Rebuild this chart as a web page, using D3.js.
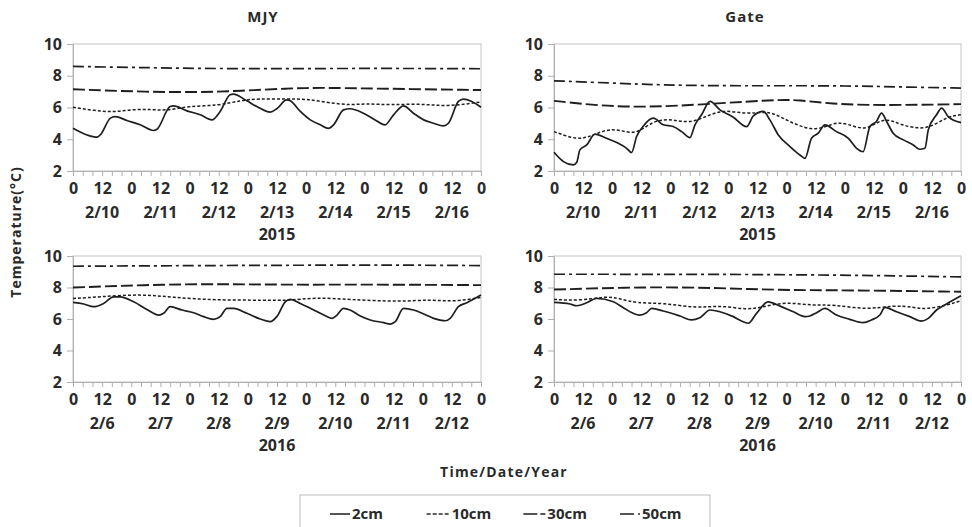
<!DOCTYPE html>
<html>
<head>
<meta charset="utf-8">
<script src="https://cdn.jsdelivr.net/npm/d3@7"></script>
<style>
  body { margin: 0; background: #fff; }
  text { font-family: "Open Sans", sans-serif; font-weight: 700; fill: #2a2a2a; }
</style>
</head>
<body>
<div id="chart"></div>
<script>
// hours since start of first day, temperature (°C)
const HOURS = d3.range(0, 169, 12);
const MINOR_HOURS = d3.range(0, 169, 4);
const Y_TICKS = [2, 4, 6, 8, 10];
const DATES_2015 = ['2/10', '2/11', '2/12', '2/13', '2/14', '2/15', '2/16'];
const DATES_2016 = ['2/6', '2/7', '2/8', '2/9', '2/10', '2/11', '2/12'];
const DEPTHS = ['2cm', '10cm', '30cm', '50cm'];

const mjy2015_2cm = [[0,4.69],[5.8,4.27],[9.9,4.13],[11.2,4.27],[15.4,5.33],[17.4,5.43],[22.2,5.18],[27.7,4.91],[33.2,4.55],[34.6,4.63],[40,6.06],[41.4,6.1],[46.9,5.79],[52.4,5.54],[57.2,5.22],[60.6,5.75],[64.7,6.8],[66,6.84],[71.6,6.42],[75.7,6.06],[81.2,5.71],[83.9,5.92],[88,6.48],[89.5,6.42],[93.6,5.75],[97.7,5.22],[101.8,4.91],[105.2,4.69],[107.3,4.91],[111.4,5.85],[114.1,5.92],[119.6,5.64],[124.4,5.22],[128.5,4.91],[132,5.54],[136.1,6.1],[140.2,5.64],[144.4,5.22],[148.5,5.01],[152.5,4.84],[154.6,5.01],[158.7,6.38],[160.8,6.53],[164.2,6.38],[168,6.02]];
const mjy2015_10cm = [[0,6.02],[9,5.8],[16.7,5.7],[24,5.88],[32,5.88],[38.7,5.8],[47,6.08],[60,6.12],[69,6.45],[76,6.55],[88,6.52],[96,6.55],[105,6.3],[114,6.15],[121,6.25],[131,6.15],[143,6.25],[154,6.05],[168,6.35]];
const mjy2015_30cm = [[0,7.15],[25,7.0],[52,6.95],[69,7.05],[88,7.2],[102,7.25],[120,7.2],[168,7.1]];
const mjy2015_50cm = [[0,8.59],[25,8.52],[52,8.46],[80,8.44],[110,8.46],[140,8.46],[168,8.44]];

const gate2015_2cm = [[0,3.18],[3.9,2.59],[8,2.38],[9.4,2.55],[10.7,3.33],[13.5,3.64],[16.9,4.32],[21.7,4.06],[25.9,3.79],[30,3.43],[32,3.16],[34.1,4.17],[36.9,4.84],[41,5.33],[45.1,4.91],[49.2,4.8],[52.7,4.48],[56.1,4.1],[58.2,4.91],[60.9,5.54],[64.4,6.38],[68.5,5.85],[74,5.39],[79.5,4.8],[82.3,5.47],[86.4,5.75],[89.1,5.22],[92.6,4.27],[97.4,3.54],[101.5,3.01],[103.6,2.8],[106.3,4.06],[109.1,4.38],[111.8,4.91],[116.6,4.48],[121.5,4.06],[124.9,3.43],[127.6,3.22],[130.4,4.8],[133.1,5.12],[135.2,5.64],[137.3,5.12],[140,4.38],[144.2,3.96],[148.3,3.64],[151,3.37],[153.1,3.43],[154.5,4.59],[157.9,5.54],[160,5.96],[162.7,5.43],[168,5.05]];
const gate2015_10cm = [[0,4.48],[9.4,3.96],[14.9,4.17],[21.7,4.63],[27.2,4.59],[34.1,4.27],[41,5.22],[49.2,5.26],[57.5,4.95],[68.5,5.96],[79.5,5.54],[87.8,5.79],[93.3,5.43],[107,4.38],[115.3,5.07],[120.8,5.01],[129,4.48],[135.9,5.43],[142.8,4.91],[153.8,4.53],[162,5.43],[168,5.54]];
const gate2015_30cm = [[0,6.42],[19,6.1],[38,6.02],[59,6.17],[80,6.38],[93,6.48],[101,6.48],[114,6.23],[134,6.13],[168,6.21]];
const gate2015_50cm = [[0,7.68],[24,7.54],[52,7.37],[93,7.37],[120,7.37],[148,7.28],[168,7.22]];

const mjy2016_2cm = [[0,7.05],[4.4,6.95],[8.5,6.78],[12.6,6.99],[16.7,7.41],[19.4,7.41],[25,7.09],[30.4,6.61],[35.3,6.25],[37.3,6.36],[40,6.78],[44.9,6.57],[49.7,6.4],[53.8,6.15],[57.9,5.98],[60.6,6.15],[63.4,6.67],[66.1,6.67],[71.6,6.36],[77.1,6.0],[81.2,5.83],[83.9,6.15],[87.4,7.09],[89.4,7.24],[93.6,6.99],[99.1,6.57],[103.9,6.21],[106.7,6.04],[108.7,6.25],[111.4,6.67],[114.1,6.57],[118.3,6.19],[122.4,5.94],[127.9,5.77],[130.6,5.68],[132.7,5.83],[136.1,6.67],[140.2,6.57],[144.4,6.32],[148.5,6.04],[153.3,5.89],[155.3,6.04],[158.7,6.78],[162.2,7.03],[168,7.52]];
const mjy2016_10cm = [[0,7.3],[11.2,7.41],[27.7,7.58],[41.4,7.37],[57.9,7.2],[79.8,7.2],[88,7.16],[100.4,7.37],[114,7.24],[134.7,7.09],[147,7.24],[156.7,7.09],[168,7.37]];
const mjy2016_30cm = [[0,8.0],[38.7,8.21],[66,8.21],[93,8.17],[121,8.19],[168,8.15]];
const mjy2016_50cm = [[0,9.35],[25,9.37],[80,9.41],[134,9.43],[168,9.39]];

const gate2016_2cm = [[0,7.05],[6.6,6.95],[9.4,6.84],[13.5,7.03],[17.6,7.31],[24.5,7.09],[28.6,6.72],[32.7,6.36],[35.4,6.25],[38.2,6.4],[40.3,6.67],[45.1,6.51],[52,6.19],[56.8,5.94],[60.2,6.08],[64.4,6.57],[68.5,6.46],[74,6.15],[78.1,5.83],[80.2,5.73],[83.6,6.36],[88.4,7.09],[93.3,6.82],[98.8,6.46],[103.6,6.15],[105.6,6.19],[108.4,6.4],[111.8,6.67],[116.6,6.25],[122.1,5.98],[127.6,5.77],[131,5.94],[134.5,6.25],[136.6,6.74],[141.4,6.46],[146.9,6.15],[151.7,5.87],[154.5,6.04],[157.9,6.57],[162,6.95],[168,7.47]];
const gate2016_10cm = [[0,7.24],[11,7.16],[21.7,7.45],[27.2,7.3],[34.1,6.99],[45.1,7.03],[58.9,6.67],[68.5,6.88],[79.5,6.57],[86.4,6.78],[96,7.09],[107,6.84],[115.3,6.93],[129,6.57],[140,6.88],[148.3,6.74],[153.8,6.61],[162,6.88],[168,7.16]];
const gate2016_30cm = [[0,7.87],[38,8.04],[66,7.98],[93,7.83],[121,7.83],[168,7.73]];
const gate2016_50cm = [[0,8.84],[52,8.84],[93,8.82],[134,8.76],[168,8.67]];

const width = 972, height = 527;
const svg = d3.select('#chart').append('svg')
    .attr('width', width).attr('height', height);

// line styles per depth
const styles = {
    '2cm':  {w: 1.7, dash: null},
    '10cm': {w: 1.5, dash: '3,2'},
    '30cm': {w: 1.9, dash: '12,4'},
    '50cm': {w: 1.7, dash: '11,4,3,4'}
};

const panels = [
    {title: 'MJY',  year: '2015', dates: DATES_2015, left: 73,  right: 481, top: 44,  bottom: 171, titleX: 263,
     series: [mjy2015_2cm, mjy2015_10cm, mjy2015_30cm, mjy2015_50cm]},
    {title: 'Gate', year: '2015', dates: DATES_2015, left: 554, right: 961, top: 44,  bottom: 171, titleX: 745,
     series: [gate2015_2cm, gate2015_10cm, gate2015_30cm, gate2015_50cm]},
    {title: null,   year: '2016', dates: DATES_2016, left: 73,  right: 481, top: 256, bottom: 382,
     series: [mjy2016_2cm, mjy2016_10cm, mjy2016_30cm, mjy2016_50cm]},
    {title: null,   year: '2016', dates: DATES_2016, left: 554, right: 961, top: 256, bottom: 382,
     series: [gate2016_2cm, gate2016_10cm, gate2016_30cm, gate2016_50cm]}
];

panels.forEach(p => {
    const x = d3.scaleLinear().domain([0, 168]).range([p.left, p.right]);
    const y = d3.scaleLinear().domain([2, 10]).range([p.bottom, p.top]);
    const g = svg.append('g');

    // frame
    g.append('rect')
        .attr('x', p.left).attr('y', p.top)
        .attr('width', p.right - p.left).attr('height', p.bottom - p.top)
        .attr('fill', 'none').attr('stroke', '#c4c4c4').attr('stroke-width', 1);

    // y axis
    const ya = g.append('g').attr('transform', `translate(${p.left},0)`)
        .call(d3.axisLeft(y).tickValues(Y_TICKS).tickSize(6).tickPadding(5));
    ya.select('.domain').attr('stroke', '#b0b0b0');
    ya.selectAll('.tick line').attr('stroke', '#b0b0b0');
    ya.selectAll('text').style('font-size', '16px').attr('fill', '#2a2a2a');

    // x axis minor ticks
    const xa = g.append('g').attr('transform', `translate(0,${p.bottom})`)
        .call(d3.axisBottom(x).tickValues(MINOR_HOURS).tickSize(5).tickFormat(''));
    xa.select('.domain').attr('stroke', '#b0b0b0');
    xa.selectAll('.tick line').attr('stroke', '#b0b0b0');

    // hour labels
    const xl = g.append('g').attr('transform', `translate(0,${p.bottom})`)
        .call(d3.axisBottom(x).tickValues(HOURS).tickSize(0).tickPadding(12)
            .tickFormat(d => d % 24 === 0 ? '0' : '12'));
    xl.select('.domain').remove();
    xl.selectAll('text').style('font-size', '16px').attr('fill', '#2a2a2a');

    // date labels
    g.selectAll('.date').data(p.dates).enter().append('text')
        .attr('x', (d, i) => x(12 + 24 * i))
        .attr('y', p.bottom + 47)
        .attr('text-anchor', 'middle')
        .style('font-size', '16px')
        .text(d => d);

    g.append('text')
        .attr('x', x(84)).attr('y', p.bottom + 69)
        .attr('text-anchor', 'middle')
        .style('font-size', '16px')
        .text(p.year);

    if (p.title) {
        g.append('text')
            .attr('x', p.titleX).attr('y', 22)
            .attr('text-anchor', 'middle')
            .style('font-size', '15px').style('letter-spacing', '1px')
            .text(p.title);
    }

    // series
    p.series.forEach((s, i) => {
        const st = styles[DEPTHS[i]];
        const line = d3.line()
            .x(d => x(d[0])).y(d => y(d[1]))
            .curve(i === 0 ? d3.curveMonotoneX : d3.curveBasis);
        g.append('path')
            .datum(s)
            .attr('d', line)
            .attr('fill', 'none')
            .attr('stroke', '#1e1e1e')
            .attr('stroke-width', st.w)
            .attr('stroke-dasharray', st.dash);
    });
});

// axis titles
svg.append('text')
    .attr('transform', 'translate(21,232) rotate(-90)')
    .attr('text-anchor', 'middle')
    .style('font-size', '14px').style('letter-spacing', '1px')
    .text('Temperature(°C)');

svg.append('text')
    .attr('x', 504).attr('y', 477)
    .attr('text-anchor', 'middle')
    .style('font-size', '14px').style('letter-spacing', '1.2px')
    .text('Time/Date/Year');

// legend
const legend = svg.append('g');
legend.append('rect')
    .attr('x', 300).attr('y', 495).attr('width', 410).attr('height', 40)
    .attr('fill', '#fff').attr('stroke', '#bdbdbd');

const legendX = d3.scalePoint().domain(DEPTHS).range([330, 620]);
const legendSym = {
    '2cm':  [[0, 20, null]],
    '10cm': [[0, 23, '4,2']],
    '30cm': [[0, 14, null], [17, 22, null]],
    '50cm': [[0, 14, null], [18, 20, null]]
};
DEPTHS.forEach(d => {
    const x0 = legendX(d);
    legendSym[d].forEach(([a, b, dash]) => {
        legend.append('line')
            .attr('x1', x0 + a).attr('x2', x0 + b)
            .attr('y1', 514).attr('y2', 514)
            .attr('stroke', '#2a2a2a').attr('stroke-width', 1.6)
            .attr('stroke-dasharray', dash);
    });
    legend.append('text')
        .attr('x', x0 + legendSym[d][legendSym[d].length - 1][1] + 2)
        .attr('y', 519)
        .style('font-size', '15px')
        .text(d);
});
</script>
</body>
</html>
